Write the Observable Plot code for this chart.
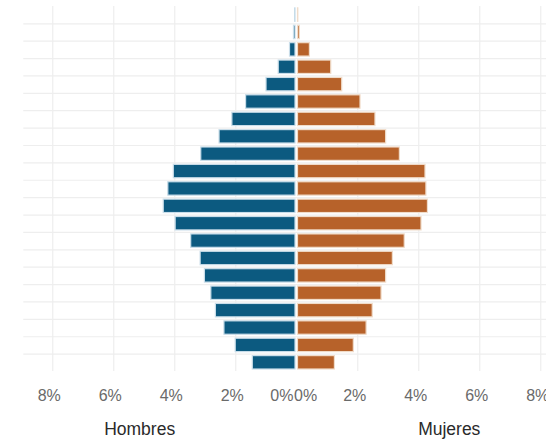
<!DOCTYPE html>
<html>
<head>
<meta charset="utf-8">
<script src="https://cdn.jsdelivr.net/npm/d3@7"></script>
<script src="https://cdn.jsdelivr.net/npm/@observablehq/plot@0.6"></script>
<style>
  html, body { margin: 0; padding: 0; background: #fff; overflow: hidden; }
  #chart svg { display: block; }
</style>
</head>
<body>
<div id="chart"></div>
<script>
// Age groups (lower bound of each 5-year group), youngest first
const ageStart = [0, 5, 10, 15, 20, 25, 30, 35, 40, 45, 50, 55, 60, 65, 70, 75, 80, 85, 90, 95, 100];
const ageLabels = ["0-4", "5-9", "10-14", "15-19", "20-24", "25-29", "30-34", "35-39", "40-44", "45-49",
                   "50-54", "55-59", "60-64", "65-69", "70-74", "75-79", "80-84", "85-89", "90-94", "95-99", "100+"];
// Share of population (%) by sex
const hombres = [1.40, 1.96, 2.33, 2.61, 2.76, 2.97, 3.11, 3.42, 3.93, 4.32, 4.17, 3.99, 3.09, 2.49, 2.07, 1.62, 0.95, 0.55, 0.18, 0.05, 0.01];
const mujeres = [1.21, 1.83, 2.25, 2.45, 2.74, 2.89, 3.11, 3.50, 4.05, 4.26, 4.21, 4.18, 3.34, 2.89, 2.54, 2.05, 1.45, 1.09, 0.39, 0.06, 0.01];
// Axis ticks (percent)
const ticksHombres = [8, 6, 4, 2];
const ticksMujeres = [2, 4, 6, 8];
const sideTitles = ["Hombres", "Mujeres"];

const rows = ageStart.map((a, i) => ({age: a, grupo: ageLabels[i], hombres: hombres[i], mujeres: mujeres[i]}));
const gridX = [...ticksHombres.map(d => -d), ...ticksMujeres];

const tickStyle = {frameAnchor: "bottom", lineAnchor: "bottom", dy: 29, fontSize: 16, fill: "#6a6a6a"};

const chart = Plot.plot({
  width: 546,
  height: 439,
  marginTop: 5.9,
  marginBottom: 68,
  marginLeft: 0,
  marginRight: 0,
  x: {domain: [-9, 9], range: [21.75, 570.75], axis: null},
  y: {domain: [0, 105], axis: null},
  style: {fontFamily: "'Liberation Sans', Arial, Helvetica, sans-serif", background: "white"},
  marks: [
    Plot.ruleY(ageStart.slice(1), {y: d => d, x1: -8.95, x2: 9, stroke: "#eeeeee", strokeWidth: 1.2}),
    Plot.ruleX(gridX, {x: d => d, stroke: "#eeeeee", strokeWidth: 1.2}),
    Plot.rectX(rows, {
      x1: 0, x2: d => -d.hombres, y1: "age", y2: d => d.age + 5,
      insetTop: 2, insetBottom: 2, dx: -1.25,
      fill: "#0c5a80", stroke: "#c9dde9", strokeWidth: 1.2
    }),
    Plot.rectX(rows, {
      x1: 0, x2: "mujeres", y1: "age", y2: d => d.age + 5,
      insetTop: 2, insetBottom: 2, dx: 1.25,
      fill: "#b7622a", stroke: "#f0dcca", strokeWidth: 1.2
    }),
    Plot.text(ticksHombres, {x: d => -d, text: d => `${d}%`, textAnchor: "middle", ...tickStyle, dx: -3.5}),
    Plot.text(ticksMujeres, {x: d => d, text: d => `${d}%`, textAnchor: "middle", ...tickStyle, dx: -3}),
    Plot.text([0], {x: d => d, text: d => `${d}%`, textAnchor: "end", ...tickStyle, dx: -3.3}),
    Plot.text([0], {x: d => d, text: d => `${d}%`, textAnchor: "start", ...tickStyle, dx: -2.7}),
    Plot.text(sideTitles, {
      x: d => d === "Hombres" ? -5.15 : 5.0,
      text: d => d,
      frameAnchor: "bottom", lineAnchor: "bottom", dy: 63.5,
      fontSize: 17.5, fill: "#2a2a2a", textAnchor: "middle"
    })
  ]
});
document.getElementById("chart").appendChild(chart);
</script>
</body>
</html>
